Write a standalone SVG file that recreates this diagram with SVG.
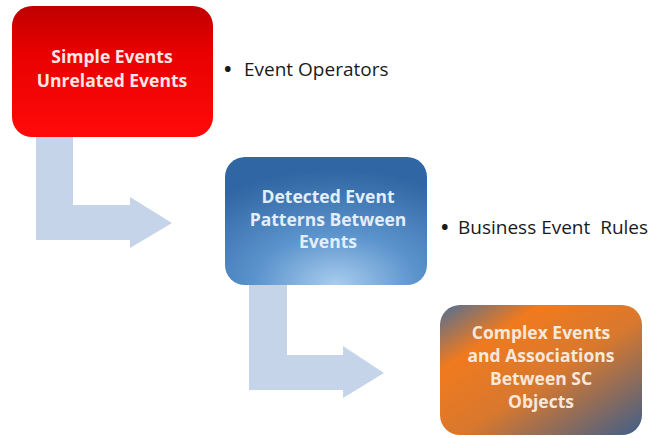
<svg xmlns="http://www.w3.org/2000/svg" width="651" height="438" viewBox="0 0 651 438">
<style>
.arrow{fill:#c6d4ea}
.bt{font-family:"Open Sans","Liberation Sans",sans-serif;font-weight:bold;font-size:17.5px;text-anchor:middle}
.bl{font-family:"Open Sans","Liberation Sans",sans-serif;font-size:19px;fill:#1a1a1a}
.dot{font-weight:bold;font-size:20px}
</style>
<defs>
<linearGradient id="gRed" x1="0" y1="0" x2="0" y2="1">
<stop offset="0" stop-color="#c00000"/>
<stop offset="0.35" stop-color="#e80000"/>
<stop offset="1" stop-color="#ff0a0a"/>
</linearGradient>
<radialGradient id="gBlue" cx="0.55" cy="1" r="0.9" fx="0.55" fy="1">
<stop offset="0" stop-color="#a9cdee"/>
<stop offset="0.45" stop-color="#5b93cc"/>
<stop offset="1" stop-color="#2f66a3"/>
</radialGradient>
<linearGradient id="gOrange" x1="0" y1="0" x2="1" y2="1">
<stop offset="0" stop-color="#4f6f96"/>
<stop offset="0.25" stop-color="#f07a1e"/>
<stop offset="0.55" stop-color="#d8782e"/>
<stop offset="1" stop-color="#3f5f8a"/>
</linearGradient>
</defs>
<g id="connectors">
<path class="arrow" d="M36,137 H73 V205 H130 V197 L172,223 L130,248 V240 H36 Z"/>
<path class="arrow" d="M249,285 H287 V355 H343 V346 L384,373 L343,398 V390 H249 Z"/>
</g>
<g id="node-simple">
<rect x="12" y="6" width="201" height="131" rx="20" fill="url(#gRed)"/>
<text class="bt" x="112" y="63" fill="#fbe6e6">Simple Events</text>
<text class="bt" x="112" y="87" fill="#fbe6e6">Unrelated Events</text>
</g>
<g id="label-operators">
<text class="bl" y="76"><tspan class="dot" x="224">•</tspan><tspan x="244">Event Operators</tspan></text>
</g>
<g id="node-detected">
<rect x="225" y="157" width="202" height="128" rx="20" fill="url(#gBlue)"/>
<text class="bt" x="328" y="203" fill="#e3eefa">Detected Event</text>
<text class="bt" x="328" y="226" fill="#e3eefa">Patterns Between</text>
<text class="bt" x="328" y="248" fill="#e3eefa">Events</text>
</g>
<g id="label-rules">
<text class="bl" y="234" xml:space="preserve"><tspan class="dot" x="441">•</tspan><tspan x="458">Business Event  Rules</tspan></text>
</g>
<g id="node-complex">
<rect x="440" y="305" width="202" height="130" rx="20" fill="url(#gOrange)"/>
<text class="bt" x="541" y="339" fill="#f6e8dc">Complex Events</text>
<text class="bt" x="541" y="362" fill="#f6e8dc">and Associations</text>
<text class="bt" x="541" y="385" fill="#f6e8dc">Between SC</text>
<text class="bt" x="541" y="408" fill="#f6e8dc">Objects</text>
</g>
</svg>
